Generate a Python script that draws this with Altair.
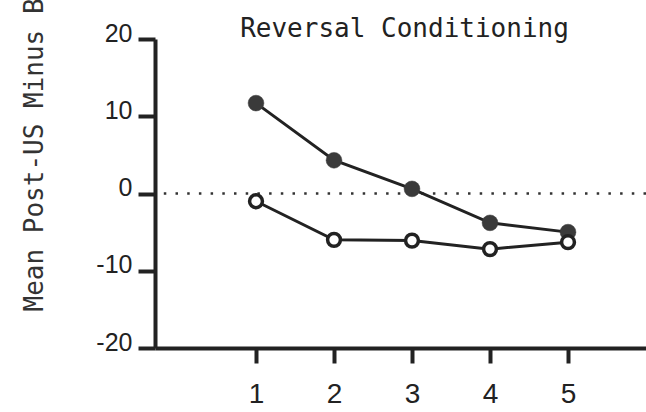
import altair as alt
import pandas as pd

sessions = [1, 2, 3, 4, 5]
filled_vals = [11.7, 4.3, 0.6, -3.8, -5.0]
open_vals = [-1.0, -6.0, -6.1, -7.2, -6.3]
y_ticks = [-20, -10, 0, 10, 20]
title_text = "Reversal Conditioning"
y_title = "Mean Post-US Minus Baseline"

df = pd.DataFrame({
    "session": sessions * 2,
    "value": filled_vals + open_vals,
    "group": ["filled"] * 5 + ["open"] * 5,
})
df_filled = df[df.group == "filled"]
df_open = df[df.group == "open"]

ink = "#222222"
x_scale = alt.Scale(domain=[-0.295, 6.0], nice=False, zero=False)
y_scale = alt.Scale(domain=[-20, 20], nice=False)

x_enc = alt.X("session:Q", scale=x_scale,
              axis=alt.Axis(values=sessions, title=None, grid=False, format="d",
                            tickSize=15, tickWidth=4, domainWidth=4,
                            domainColor=ink, tickColor=ink,
                            labelFont="Liberation Sans", labelFontSize=28,
                            labelColor=ink, labelPadding=17,
                            labelBaseline="top"))
x_none = alt.X("session:Q", scale=x_scale, axis=None)
x_top = alt.X("session:Q", scale=x_scale,
              axis=alt.Axis(orient="top", title=title_text, grid=False,
                            domain=False, ticks=False, labels=False,
                            titleFont="DejaVu Sans Mono", titleFontSize=26,
                            titleFontWeight="normal", titleColor=ink,
                            titleAlign="center", titleBaseline="alphabetic",
                            titleX=249, titleY=-3))
y_enc = alt.Y("value:Q", scale=y_scale,
              axis=alt.Axis(values=y_ticks, grid=False, title=y_title,
                            labelExpr="'' + datum.value",
                            tickSize=17, tickWidth=4, domainWidth=4,
                            domainColor=ink, tickColor=ink,
                            labelFont="Liberation Sans", labelFontSize=25,
                            labelColor=ink, labelPadding=6, labelOffset=2,
                            labelBaseline="alphabetic",
                            titleFont="DejaVu Sans Mono", titleFontSize=26,
                            titleFontWeight="normal", titleColor="#333333",
                            titleAngle=-90, titleAlign="left",
                            titleBaseline="alphabetic",
                            titleX=-113, titleY=272))

zero_line = alt.Chart(pd.DataFrame({"z": [0]})).mark_rule(
    color="#333333", strokeWidth=2.5, strokeDash=[2.5, 9.2]
).encode(y=alt.Y("z:Q", scale=y_scale))

lines = alt.Chart(df).mark_line(color=ink, strokeWidth=3).encode(
    x=x_enc, y=y_enc, detail="group:N")

pts_filled = alt.Chart(df_filled).mark_point(
    shape="circle", filled=True, fill="#3a3a3a", size=250, opacity=1,
    stroke="#3a3a3a", strokeWidth=0.5
).encode(x=x_none, y="value:Q")

pts_open = alt.Chart(df_open).mark_point(
    shape="circle", filled=False, fill="white", fillOpacity=1, size=165,
    stroke=ink, strokeWidth=3.5, opacity=1
).encode(x=x_top, y="value:Q")

chart = alt.layer(zero_line, lines, pts_filled, pts_open).resolve_axis(
    x="independent"
).properties(
    width=491, height=309,
    autosize=alt.AutoSizeParams(type="none"),
    padding={"left": 155, "top": 39, "right": 0, "bottom": 64},
).configure(
    background="white",
    view=alt.ViewConfig(stroke="transparent", strokeWidth=0),
)

chart.save("out.html", embed_options={"renderer": "svg", "actions": False})
